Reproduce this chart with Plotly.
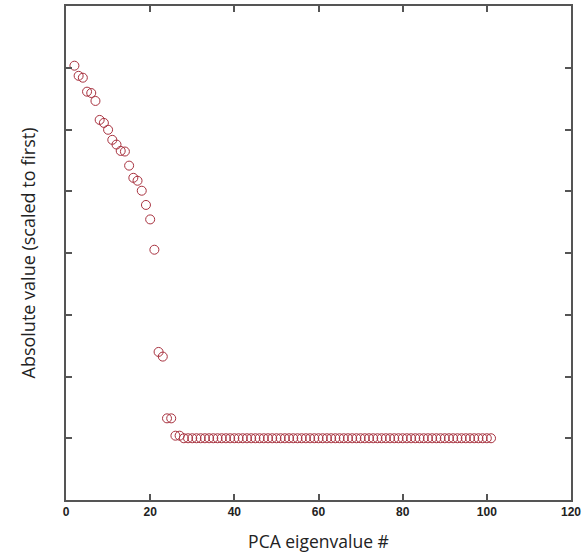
import plotly.graph_objects as go

eig_index = list(range(2, 102))
eig_values = [
    1.08, 0.74, 0.69, 0.41, 0.39, 0.29, 0.143, 0.128, 0.099, 0.068,
    0.057, 0.045, 0.044, 0.026, 0.0165, 0.0148, 0.0102, 0.0060, 0.0035, 0.00113,
    2.5e-5, 2.1e-5, 2.1e-6, 2.1e-6, 1.1e-6, 1.1e-6, 1.0e-6, 1.0e-6, 1.0e-6, 1.0e-6,
    1.0e-6, 1.0e-6, 1.0e-6, 1.0e-6, 1.0e-6, 1.0e-6, 1.0e-6, 1.0e-6, 1.0e-6, 1.0e-6,
    1.0e-6, 1.0e-6, 1.0e-6, 1.0e-6, 1.0e-6, 1.0e-6, 1.0e-6, 1.0e-6, 1.0e-6, 1.0e-6,
    1.0e-6, 1.0e-6, 1.0e-6, 1.0e-6, 1.0e-6, 1.0e-6, 1.0e-6, 1.0e-6, 1.0e-6, 1.0e-6,
    1.0e-6, 1.0e-6, 1.0e-6, 1.0e-6, 1.0e-6, 1.0e-6, 1.0e-6, 1.0e-6, 1.0e-6, 1.0e-6,
    1.0e-6, 1.0e-6, 1.0e-6, 1.0e-6, 1.0e-6, 1.0e-6, 1.0e-6, 1.0e-6, 1.0e-6, 1.0e-6,
    1.0e-6, 1.0e-6, 1.0e-6, 1.0e-6, 1.0e-6, 1.0e-6, 1.0e-6, 1.0e-6, 1.0e-6, 1.0e-6,
    1.0e-6, 1.0e-6, 1.0e-6, 1.0e-6, 1.0e-6, 1.0e-6, 1.0e-6, 1.0e-6, 1.0e-6, 1.0e-6,
]
x_ticks = [0, 20, 40, 60, 80, 100, 120]
y_ticks = [1e-7, 1e-6, 1e-5, 1e-4, 1e-3, 1e-2, 1e-1, 1, 10]

fig = go.Figure()
fig.add_trace(go.Scatter(
    x=eig_index, y=eig_values, mode="markers",
    marker=dict(symbol="circle-open", size=9, color="#a8323f", line=dict(width=1, color="#a8323f")),
    showlegend=False,
))

axis_common = dict(
    showline=True, linecolor="#555555", linewidth=2, mirror="ticks",
    ticks="inside", ticklen=6, tickwidth=2, tickcolor="#555555",
    showgrid=False, zeroline=False, automargin=False,
)
fig.update_xaxes(
    range=[0, 120], tickvals=x_ticks, ticktext=[str(v) for v in x_ticks],
    tickfont=dict(family="Liberation Sans Narrow, Arial Narrow, sans-serif", size=12, color="#222222", weight="bold"),
    title=dict(text="PCA eigenvalue #", font=dict(family="Open Sans, sans-serif", size=17.5, color="#222222"), standoff=17),
    **axis_common,
)
fig.update_yaxes(
    type="log", range=[-7, 1], tickvals=y_ticks, showticklabels=False,
    title=dict(text="Absolute value (scaled to first)", font=dict(family="Open Sans, sans-serif", size=18, color="#222222"), standoff=24),
    **axis_common,
)
fig.update_layout(
    width=582, height=553,
    margin=dict(l=66, r=11, t=6, b=53),
    plot_bgcolor="white", paper_bgcolor="white",
)
fig.write_html("out.html", config={"displayModeBar": False},
               post_script="document.body.style.margin='0px';")
